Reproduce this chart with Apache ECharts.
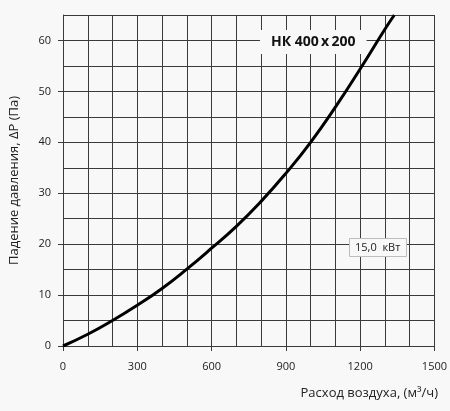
<!DOCTYPE html>
<html>
<head>
<meta charset="utf-8">
<script src="https://cdn.jsdelivr.net/npm/echarts@6/dist/echarts.min.js"></script>
<style>
html,body{margin:0;padding:0;background:#f8f8f8;}
#c{width:450px;height:411px;}
</style>
</head>
<body>
<div id="c"></div>
<script>
// Air flow (m3/h) and pressure drop (Pa)
const airflow = [0, 100, 200, 300, 400, 500, 600, 700, 800, 900, 1000, 1100, 1200, 1300, 1338];
const pressure = [0, 2.3, 5, 8, 11.3, 15.1, 19.2, 23.5, 28.4, 33.9, 40, 46.9, 54.4, 62.2, 65];
const xTickLabels = [0, 300, 600, 900, 1200, 1500];
const yTickLabels = [0, 10, 20, 30, 40, 50, 60];
const modelTitle = 'НК 400\u2009x\u2009200';
const powerLabel = '15,0  кВт';
const xName = 'Расход воздуха, (м³/ч)';
const yName = 'Падение давления, ΔP (Па)';

const font = 'Open Sans';
const gridColor = '#3a3a3a';
const txt = '#222';
const chart = echarts.init(document.getElementById('c'), null, {renderer: 'canvas'});
const gridAxisX = {
  type: 'value', min: 0, max: 1500, interval: 100, gridIndex: 0,
  axisLine: {show: true, lineStyle: {color: gridColor, width: 1}},
  axisTick: {show: false}, axisLabel: {show: false},
  splitLine: {show: true, lineStyle: {color: gridColor, width: 1}}
};
const labelAxisX = {
  type: 'value', min: 0, max: 1500, gridIndex: 0, position: 'bottom',
  axisLine: {show: false},
  axisTick: {show: true, customValues: xTickLabels, length: 5, lineStyle: {color: gridColor}},
  axisLabel: {customValues: xTickLabels, formatter: v => String(v), margin: 15, fontSize: 11, color: txt, fontFamily: font},
  splitLine: {show: false}
};
const gridAxisY = {
  type: 'value', min: 0, max: 65, interval: 5, gridIndex: 0,
  axisLine: {show: true, lineStyle: {color: gridColor, width: 1}},
  axisTick: {show: false}, axisLabel: {show: false},
  splitLine: {show: true, lineStyle: {color: gridColor, width: 1}}
};
const labelAxisY = {
  type: 'value', min: 0, max: 65, gridIndex: 0, position: 'left',
  name: yName, nameLocation: 'middle', nameGap: 42,
  nameTextStyle: {fontSize: 13, color: txt, fontFamily: font},
  axisLine: {show: false},
  axisTick: {show: true, customValues: yTickLabels, length: 5, lineStyle: {color: gridColor}},
  axisLabel: {customValues: yTickLabels, formatter: v => String(v), margin: 12, fontSize: 11, color: txt, fontFamily: font},
  splitLine: {show: false}
};
chart.setOption({
  backgroundColor: '#f8f8f8',
  animation: false,
  textStyle: {fontFamily: font},
  title: [
    {
      text: modelTitle, left: 260, top: 30,
      padding: [5, 11], backgroundColor: '#f8f8f8',
      textStyle: {fontFamily: font, fontSize: 14, fontWeight: 'bold', color: '#111'}
    },
    {
      text: powerLabel, left: 349, top: 238,
      padding: [4, 6], backgroundColor: '#f8f8f8', borderColor: '#bdbdbd', borderWidth: 1,
      textStyle: {fontFamily: font, fontSize: 11, fontWeight: 'normal', color: txt}
    },
    {
      text: xName, right: 12, top: 387, padding: 0,
      textStyle: {fontFamily: font, fontSize: 13, fontWeight: 'normal', color: txt}
    }
  ],
  grid: {left: 59, right: 13, top: 15, bottom: 65, containLabel: false},
  xAxis: [gridAxisX, labelAxisX],
  yAxis: [gridAxisY, labelAxisY],
  series: [{
    type: 'line',
    xAxisIndex: 0, yAxisIndex: 0,
    data: airflow.map((x, i) => [x, pressure[i]]),
    smooth: true,
    showSymbol: false,
    lineStyle: {color: '#000', width: 3},
    z: 3
  }]
});
</script>
</body>
</html>
